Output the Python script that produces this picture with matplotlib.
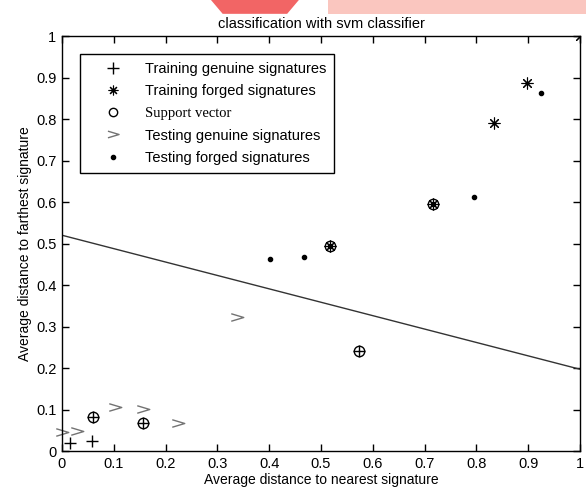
import matplotlib
matplotlib.use("Agg")
import matplotlib.pyplot as plt
from matplotlib.path import Path
from matplotlib.patches import Polygon

# ---- data ----
train_gen_x = [0.015, 0.058, 0.059, 0.157, 0.573]
train_gen_y = [0.020, 0.025, 0.082, 0.068, 0.242]

train_forg_x = [0.517, 0.716, 0.834, 0.897, 1.000]
train_forg_y = [0.494, 0.595, 0.791, 0.888, 1.000]

sv_x = [0.059, 0.157, 0.573, 0.517, 0.716]
sv_y = [0.082, 0.068, 0.242, 0.494, 0.595]

test_gen_x = [0.000, 0.028, 0.102, 0.156, 0.223, 0.338]
test_gen_y = [0.045, 0.048, 0.107, 0.101, 0.068, 0.322]

test_forg_x = [0.402, 0.467, 0.517, 0.716, 0.796, 0.925]
test_forg_y = [0.462, 0.468, 0.494, 0.595, 0.611, 0.863]

boundary_x = [0.0, 1.0]
boundary_y = [0.520, 0.197]

ticks = [0, 0.1, 0.2, 0.3, 0.4, 0.5, 0.6, 0.7, 0.8, 0.9, 1]
tick_labels = ["0", "0.1", "0.2", "0.3", "0.4", "0.5", "0.6", "0.7", "0.8", "0.9", "1"]

plt.rcParams['font.family'] = ['Liberation Sans', 'DejaVu Sans']

fig = plt.figure(figsize=(5.86, 4.94), dpi=100)

# faint watermark shapes at the top of the scan
fig.patches.append(Polygon([[0.36, 1.0], [0.51, 1.0], [0.49, 0.972], [0.38, 0.972]],
                           closed=True, transform=fig.transFigure,
                           facecolor='#f04a4a', edgecolor='none', alpha=0.85, zorder=0))
fig.patches.append(Polygon([[0.56, 1.0], [1.0, 1.0], [1.0, 0.972], [0.56, 0.972]],
                           closed=True, transform=fig.transFigure,
                           facecolor='#f9b8b0', edgecolor='none', alpha=0.8, zorder=0))

# axes box: left 62px, right ~580px, top 36px, bottom 451px
ax = fig.add_axes([0.1058, 0.087, 0.884, 0.840])
ax.patch.set_alpha(0.0)

# chevron used by the reference for '>'
chevron = Path([(-1, 0.6), (1, 0), (-1, -0.6)], [Path.MOVETO, Path.LINETO, Path.LINETO])

ax.plot(train_gen_x, train_gen_y, linestyle='none', marker='+', color='black',
        ms=8, mew=1.0, label='Training genuine signatures')
ax.plot(train_forg_x, train_forg_y, linestyle='none', marker=(8, 2, 0), color='black',
        ms=8.5, mew=0.8, label='Training forged signatures')
ax.plot(sv_x, sv_y, linestyle='none', marker='o', mfc='none', mec='black',
        ms=7.5, mew=1.0, label='Support vector')
ax.plot(test_gen_x, test_gen_y, linestyle='none', marker=chevron, mfc='none', mec='0.45',
        ms=9, mew=1.0, clip_on=False, label='Testing genuine signatures')
ax.plot(test_forg_x, test_forg_y, linestyle='none', marker='.', color='black',
        ms=6, label='Testing forged signatures')
ax.plot(boundary_x, boundary_y, color='0.2', lw=1.0)

ax.set_xlim(0, 1)
ax.set_ylim(0, 1)
ax.set_xticks(ticks)
ax.set_xticklabels(tick_labels)
ax.set_yticks(ticks)
ax.set_yticklabels(tick_labels)
ax.tick_params(direction='in', length=5, width=1, top=True, right=True,
               labelsize=10.5, pad=4)
for s in ax.spines.values():
    s.set_linewidth(1.0)

ax.set_title('classification with svm classifier', fontsize=10.5, pad=6)
ax.set_xlabel('Average distance to nearest signature', fontsize=10, labelpad=2)
ax.set_ylabel('Average distance to farthest signature', fontsize=10, labelpad=3)

leg = ax.legend(loc='upper left', bbox_to_anchor=(0.0345, 0.957), borderaxespad=0,
                fancybox=False, edgecolor='black', framealpha=1.0, fontsize=10.5,
                handlelength=3.4, handletextpad=0.5, labelspacing=0.58, borderpad=0.55)
leg.get_frame().set_linewidth(1.0)
leg.get_texts()[2].set_family('Liberation Serif')
for h, ms in zip(leg.legend_handles, [8, 7, 6, 8, 6]):
    h.set_markersize(ms)

fig.savefig('out.png', dpi=100)
